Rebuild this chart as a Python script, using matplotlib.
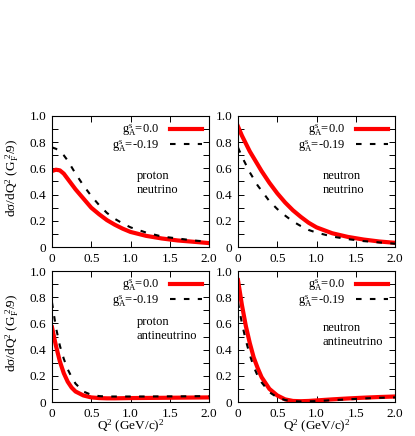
import numpy as np
import matplotlib
matplotlib.use("Agg")
import matplotlib.pyplot as plt
from matplotlib.ticker import MultipleLocator, FuncFormatter

plt.rcParams['font.family'] = ['Liberation Serif', 'DejaVu Serif']
plt.rcParams['mathtext.fontset'] = 'custom'
plt.rcParams['mathtext.rm'] = 'Liberation Serif'
plt.rcParams['mathtext.it'] = 'Liberation Serif:italic'
plt.rcParams['font.size'] = 9
plt.rcParams['lines.scale_dashes'] = False

# Q^2 grid (GeV/c)^2
q2 = [0.0, 0.05, 0.1, 0.15, 0.2, 0.25, 0.3, 0.4, 0.5, 0.6, 0.7, 0.8, 0.9, 1.0,
      1.2, 1.4, 1.6, 1.8, 2.0]

# proton neutrino
pn_g0 = [0.58, 0.59, 0.585, 0.56, 0.52, 0.48, 0.44, 0.37, 0.30, 0.25, 0.205, 0.17,
         0.14, 0.115, 0.085, 0.065, 0.05, 0.04, 0.03]
pn_g19 = [0.76, 0.75, 0.73, 0.70, 0.66, 0.61, 0.56, 0.47, 0.39, 0.32, 0.26, 0.215,
          0.18, 0.15, 0.11, 0.08, 0.065, 0.05, 0.04]
# neutron neutrino
nn_g0 = [0.92, 0.85, 0.79, 0.73, 0.68, 0.63, 0.58, 0.49, 0.41, 0.34, 0.28, 0.23,
         0.185, 0.15, 0.105, 0.077, 0.057, 0.042, 0.032]
nn_g19 = [0.76, 0.69, 0.63, 0.57, 0.52, 0.47, 0.43, 0.35, 0.29, 0.24, 0.195, 0.16,
          0.13, 0.11, 0.08, 0.06, 0.045, 0.035, 0.025]
# proton antineutrino
pa_g0 = [0.57, 0.43, 0.31, 0.22, 0.155, 0.11, 0.08, 0.05, 0.035, 0.03, 0.028, 0.028,
         0.029, 0.03, 0.031, 0.032, 0.033, 0.034, 0.035]
pa_g19 = [0.76, 0.57, 0.43, 0.33, 0.25, 0.19, 0.14, 0.08, 0.055, 0.045, 0.042, 0.042,
          0.042, 0.042, 0.042, 0.043, 0.043, 0.044, 0.045]
# neutron antineutrino
na_g0 = [0.93, 0.74, 0.58, 0.45, 0.34, 0.26, 0.19, 0.10, 0.05, 0.02, 0.008, 0.006,
         0.008, 0.012, 0.02, 0.027, 0.033, 0.038, 0.042]
na_g19 = [0.76, 0.60, 0.47, 0.36, 0.27, 0.20, 0.15, 0.075, 0.035, 0.015, 0.006, 0.004,
          0.005, 0.007, 0.014, 0.02, 0.027, 0.032, 0.035]

panels = [
    ("proton\nneutrino", pn_g0, pn_g19),
    ("neutron\nneutrino", nn_g0, nn_g19),
    ("proton\nantineutrino", pa_g0, pa_g19),
    ("neutron\nantineutrino", na_g0, na_g19),
]
text_y = [0.49, 0.49, 0.56, 0.51]

fig = plt.figure(figsize=(4.15, 4.36), dpi=100)
lefts = [52 / 415, 238 / 415]
bottoms = [1 - 247 / 436, 1 - 402 / 436]
w = 157 / 415
h = 131 / 436

ylab = 'dσ/dQ$^{2}$ (G$_{\\mathrm{F}}^{\\ 2}$/9)'
fmt = FuncFormatter(lambda v, p: '0' if v == 0 else f'{v:.1f}')

for i, (label, g0, g19) in enumerate(panels):
    r, c = divmod(i, 2)
    ax = fig.add_axes([lefts[c], bottoms[r], w, h])
    ax.plot(q2, g0, color='#ff0000', lw=3.0, label=r'g$_{\mathrm{A}}^{\mathrm{s}}$=0.0', zorder=2)
    ax.plot(q2, g19, color='black', lw=1.5, ls=(0, (4, 6)),
            label=r'g$_{\mathrm{A}}^{\mathrm{s}}$=-0.19', zorder=3)
    ax.set_xlim(0, 2.0)
    ax.set_ylim(0, 1.0)
    ax.xaxis.set_major_locator(MultipleLocator(0.5))
    ax.xaxis.set_major_formatter(fmt)
    ax.yaxis.set_major_locator(MultipleLocator(0.2))
    ax.yaxis.set_minor_locator(MultipleLocator(0.1))
    ax.yaxis.set_major_formatter(fmt)
    ax.tick_params(which='both', direction='in', top=True, right=True, length=4, width=0.7,
                   pad=4, labelsize=9.5)
    for s in ax.spines.values():
        s.set_linewidth(0.8)
    ax.text(1.08, text_y[i], label, ha='left', va='center', linespacing=1.25)
    ax.legend(loc='upper right', frameon=False, markerfirst=False, handlelength=2.6,
              handletextpad=0.8, labelspacing=0.0, borderaxespad=0.15, fontsize=9)
    if c == 0:
        ax.set_ylabel(ylab, fontsize=9.5)
        ax.yaxis.set_label_coords(-0.2, 0.53)
    if r == 1:
        ax.set_xlabel(r'Q$^{2}$ (GeV/c)$^{2}$', fontsize=9.5)
        ax.xaxis.set_label_coords(0.5, -0.125)

fig.savefig('out.png', dpi=100)
